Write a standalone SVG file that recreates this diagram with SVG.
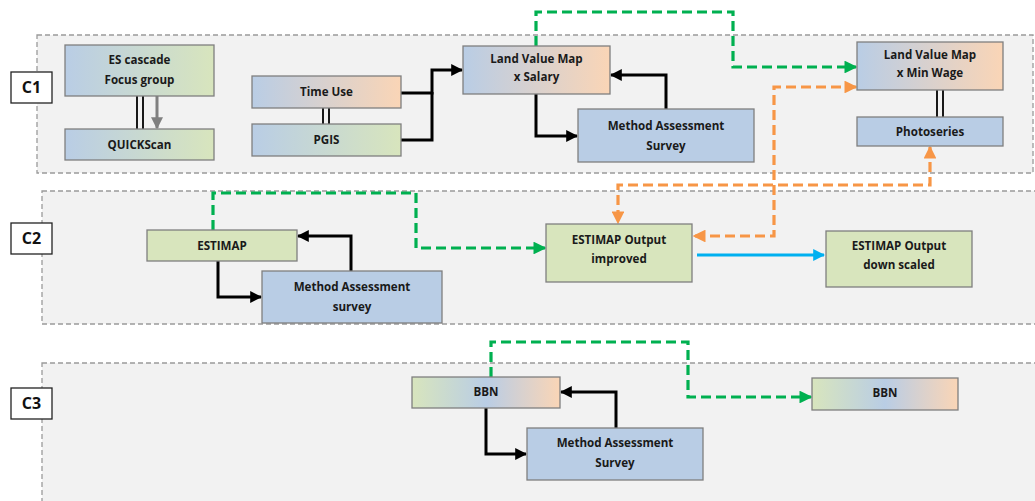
<svg xmlns="http://www.w3.org/2000/svg" width="1035" height="501" viewBox="0 0 1035 501">
<defs>
<linearGradient id="gBG" x1="0" x2="1" y1="0" y2="0"><stop offset="0" stop-color="#b9cde5"/><stop offset="1" stop-color="#d8e5bd"/></linearGradient>
<linearGradient id="gBO" x1="0" x2="1" y1="0" y2="0"><stop offset="0" stop-color="#b9cde5"/><stop offset="1" stop-color="#fad5b6"/></linearGradient>
<linearGradient id="gGBO" x1="0" x2="1" y1="0" y2="0"><stop offset="0" stop-color="#d8e5bd"/><stop offset="0.5" stop-color="#b9cde5"/><stop offset="1" stop-color="#fad5b6"/></linearGradient>
<marker id="aK" viewBox="0 0 10 10" refX="9" refY="5" markerWidth="4" markerHeight="4" orient="auto-start-reverse" markerUnits="strokeWidth"><path d="M0,0 L10,5 L0,10 z" fill="#000"/></marker>
<marker id="aGr" viewBox="0 0 10 10" refX="9" refY="5" markerWidth="4" markerHeight="4" orient="auto-start-reverse" markerUnits="strokeWidth"><path d="M0,0 L10,5 L0,10 z" fill="#808080"/></marker>
<marker id="aG" viewBox="0 0 10 10" refX="9" refY="5" markerWidth="4" markerHeight="4" orient="auto-start-reverse" markerUnits="strokeWidth"><path d="M0,0 L10,5 L0,10 z" fill="#00b050"/></marker>
<marker id="aO" viewBox="0 0 10 10" refX="9" refY="5" markerWidth="4" markerHeight="4" orient="auto-start-reverse" markerUnits="strokeWidth"><path d="M0,0 L10,5 L0,10 z" fill="#f79646"/></marker>
<marker id="aB" viewBox="0 0 10 10" refX="9" refY="5" markerWidth="4" markerHeight="4" orient="auto-start-reverse" markerUnits="strokeWidth"><path d="M0,0 L10,5 L0,10 z" fill="#00b0f0"/></marker>
</defs>
<style>
.panel{fill:#f2f2f2;stroke:#9a9a9a;stroke-width:1.3;stroke-dasharray:5,3}
.lbl{fill:#fff;stroke:#222;stroke-width:1.3}
.lt{font-family:"Open Sans","Liberation Sans",sans-serif;font-weight:700;font-size:16px;fill:#111;text-anchor:middle}
.box{stroke:#7f7f7f;stroke-width:1.3}
.t{font-family:"Open Sans","Liberation Sans",sans-serif;font-weight:700;font-size:11.6px;fill:#1a1a1a;text-anchor:middle}
.blk{fill:none;stroke:#000;stroke-width:3;marker-end:url(#aK)}
.dbl{fill:none;stroke:#000;stroke-width:1.8}
.gd{fill:none;stroke:#00b050;stroke-width:3.2;stroke-dasharray:10,5;marker-end:url(#aG)}
.od{fill:none;stroke:#f79646;stroke-width:3.2;stroke-dasharray:10,5;marker-end:url(#aO);marker-start:url(#aO)}
</style>
<rect width="1035" height="501" fill="#fff"/>
<g id="panels">
<rect class="panel" x="37" y="35" width="996" height="138"/>
<rect class="panel" x="42" y="191" width="1000" height="133"/>
<rect class="panel" x="42" y="363" width="1000" height="150"/>
</g>
<g id="C1"><rect class="lbl" x="11" y="72" width="41" height="31"/><text class="lt" x="31.5" y="93">C1</text></g>
<g id="C2"><rect class="lbl" x="11" y="223" width="41" height="31"/><text class="lt" x="31.5" y="244">C2</text></g>
<g id="C3"><rect class="lbl" x="11" y="388" width="41" height="31"/><text class="lt" x="31.5" y="409">C3</text></g>

<g id="connectors">
<line class="dbl" x1="137" y1="96" x2="137" y2="129"/><line class="dbl" x1="143" y1="96" x2="143" y2="129"/>
<line x1="157" y1="96" x2="157" y2="128" stroke="#808080" stroke-width="3" marker-end="url(#aGr)"/>
<line class="dbl" x1="323" y1="108" x2="323" y2="124"/><line class="dbl" x1="329" y1="108" x2="329" y2="124"/>
<path class="blk" d="M401,93 H432 V70 H462"/>
<path fill="none" stroke="#000" stroke-width="3" d="M401,140 H432 V92"/>
<path class="blk" d="M536,94 V136 H577"/>
<path class="blk" d="M666,109 V75 H611"/>
<path class="gd" d="M536,46 V12 H733 V67 H856"/>
<line class="dbl" x1="937" y1="90" x2="937" y2="117"/><line class="dbl" x1="943" y1="90" x2="943" y2="117"/>
<path class="od" d="M856,87 H774 V236 H694"/>
<path class="od" d="M930,147 V185 H618 V223"/>
<path class="blk" d="M218,261 V297 H261"/>
<path class="blk" d="M351,271 V236 H298"/>
<path class="gd" d="M213,230 V193 H416 V248 H545"/>
<line x1="697" y1="255" x2="824" y2="255" stroke="#00b0f0" stroke-width="3" marker-end="url(#aB)"/>
<path class="blk" d="M486,408 V454 H526"/>
<path class="blk" d="M616,428 V392 H561"/>
<path class="gd" d="M491,377 V342 H688 V397 H811"/>
</g>

<g id="es-cascade"><rect class="box" x="65" y="45" width="149" height="51" fill="url(#gBG)"/><text class="t" x="139.5" y="64">ES cascade</text><text class="t" x="139.5" y="84">Focus group</text></g>
<g id="quickscan"><rect class="box" x="65" y="129" width="149" height="31" fill="url(#gBG)"/><text class="t" x="139.5" y="149">QUICKScan</text></g>
<g id="time-use"><rect class="box" x="252" y="76" width="149" height="32" fill="url(#gBO)"/><text class="t" x="326.5" y="96">Time Use</text></g>
<g id="pgis"><rect class="box" x="252" y="124" width="149" height="32" fill="url(#gBG)"/><text class="t" x="326.5" y="144">PGIS</text></g>
<g id="lvm-salary"><rect class="box" x="463" y="46" width="147" height="48" fill="url(#gBO)"/><text class="t" x="536.5" y="63">Land Value Map</text><text class="t" x="536.5" y="81">x Salary</text></g>
<g id="mas-c1"><rect class="box" x="578" y="109" width="176" height="53" fill="#b9cde5"/><text class="t" x="666" y="130">Method Assessment</text><text class="t" x="666" y="150">Survey</text></g>
<g id="lvm-minwage"><rect class="box" x="857" y="42" width="146" height="48" fill="url(#gBO)"/><text class="t" x="930" y="59">Land Value Map</text><text class="t" x="930" y="77">x Min Wage</text></g>
<g id="photoseries"><rect class="box" x="857" y="117" width="146" height="29" fill="#b9cde5"/><text class="t" x="930" y="136">Photoseries</text></g>

<g id="estimap"><rect class="box" x="147" y="230" width="150" height="31" fill="#d8e5bd"/><text class="t" x="222" y="250">ESTIMAP</text></g>
<g id="mas-c2"><rect class="box" x="262" y="271" width="180" height="52" fill="#b9cde5"/><text class="t" x="352" y="291">Method Assessment</text><text class="t" x="352" y="311">survey</text></g>
<g id="estimap-improved"><rect class="box" x="546" y="224" width="146" height="58" fill="#d8e5bd"/><text class="t" x="619" y="244">ESTIMAP Output</text><text class="t" x="619" y="263">improved</text></g>
<g id="estimap-downscaled"><rect class="box" x="826" y="231" width="146" height="56" fill="#d8e5bd"/><text class="t" x="899" y="250">ESTIMAP Output</text><text class="t" x="899" y="269">down scaled</text></g>

<g id="bbn-1"><rect class="box" x="412" y="377" width="148" height="31" fill="url(#gGBO)"/><text class="t" x="486" y="396">BBN</text></g>
<g id="mas-c3"><rect class="box" x="527" y="428" width="176" height="52" fill="#b9cde5"/><text class="t" x="615" y="447">Method Assessment</text><text class="t" x="615" y="467">Survey</text></g>
<g id="bbn-2"><rect class="box" x="812" y="378" width="146" height="32" fill="url(#gGBO)"/><text class="t" x="885" y="397">BBN</text></g>
</svg>
